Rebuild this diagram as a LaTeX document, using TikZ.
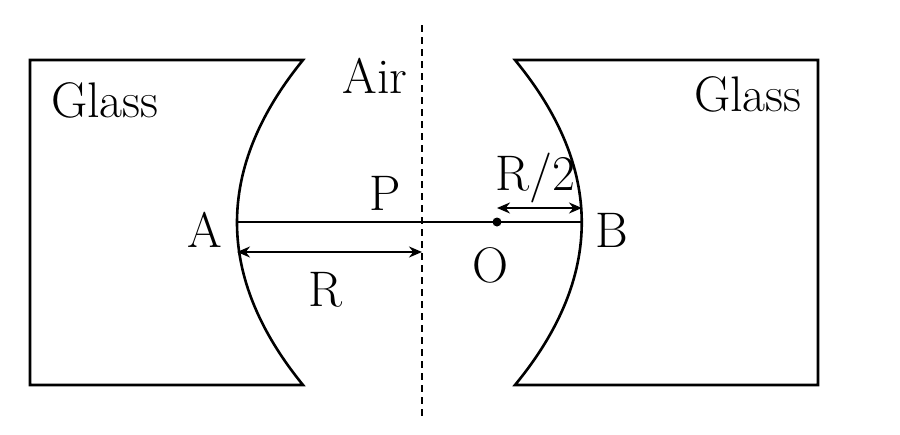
\documentclass[tikz,border=0pt]{standalone}
\usetikzlibrary{arrows.meta}
\tikzset{every picture/.style={line width=2.6pt}}
\tikzset{lbl/.style={font=\fontsize{50}{58}\selectfont, inner sep=0pt},
         dim/.style={line width=2pt, {Stealth[length=13pt,width=11pt]}-{Stealth[length=13pt,width=11pt]}}}
\begin{document}
\begin{tikzpicture}[x=1pt,y=1pt,yscale=-1,xscale=1]
\useasboundingbox (0,0) rectangle (900,434);

%Shape: left glass block
\draw  (303,60) -- (30,60) -- (30,385) -- (303,385) .. controls (215,277) and (215,168) .. (303,60) -- cycle ;
%Shape: right glass block
\draw  (515,60) -- (818,60) -- (818,385) -- (515,385) .. controls (604,277) and (604,168) .. (515,60) -- cycle ;
%Straight Lines: boundary
\draw [line width=2pt, dash pattern={on 7pt off 5pt}]  (422,25) -- (422,420) ;

\coordinate (A) at (237,222);
\coordinate (B) at (582,222);
\coordinate (Pm) at (422,252);
\coordinate (Am) at (237,252);
\coordinate (Ob) at (497,208);
\coordinate (Bb) at (582,208);
\fill (497,222) circle (4.5pt) coordinate (O);
\draw (A) -- (B) ;
\draw [dim] (Am) -- (Pm) ;
\draw [dim] (Ob) -- (Bb) ;

% Text Node
\draw (105,100) node [lbl] (glassL) {Glass};
% Text Node
\draw (748,94) node [lbl] (glassR) {Glass};
% Text Node
\draw (375,76) node [lbl] (air) {Air};
% Text Node
\draw (205,230) node [lbl] (labA) {A};
% Text Node
\draw (385,193) node [lbl] (labP) {P};
% Text Node
\draw (490,265) node [lbl] (labO) {O};
% Text Node
\draw (612,230) node [lbl] (labB) {B};
% Text Node
\draw (325,290) node [lbl] (labR) {R};
% Text Node
\draw (535,178) node [lbl] (labR2) {R/2};
\end{tikzpicture}
\end{document}
